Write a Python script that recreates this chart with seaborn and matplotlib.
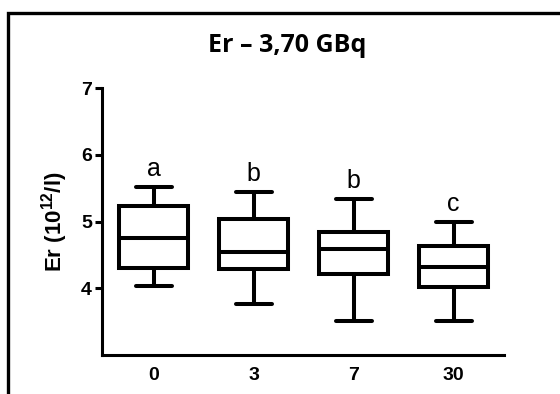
import matplotlib
matplotlib.use("Agg")
import matplotlib.pyplot as plt
import seaborn as sns
import pandas as pd
from matplotlib.patches import Rectangle

# Data: five-number summaries per group (lower whisker, Q1, median, Q3, upper whisker)
categories = ["0", "3", "7", "30"]
lower_whisker = [4.03, 3.77, 3.51, 3.51]
q1 = [4.31, 4.29, 4.21, 4.02]
median = [4.75, 4.55, 4.59, 4.32]
q3 = [5.24, 5.04, 4.84, 4.63]
upper_whisker = [5.52, 5.45, 5.34, 5.00]
letters = ["a", "b", "b", "c"]
yticks = [4, 5, 6, 7]
title = "Er – 3,70 GBq"
ylabel = "Er (10$^{\\mathbf{12}}$/l)"

rows = []
for i, c in enumerate(categories):
    for v in (lower_whisker[i], q1[i], median[i], q3[i], upper_whisker[i]):
        rows.append({"day": c, "Er": v})
df = pd.DataFrame(rows)

sns.set_theme(style="ticks")
plt.rcParams["font.family"] = ["Liberation Sans", "DejaVu Sans"]
plt.rcParams["text.color"] = "black"
plt.rcParams["axes.labelcolor"] = "black"
plt.rcParams["mathtext.fontset"] = "custom"
plt.rcParams["mathtext.bf"] = "Liberation Sans:bold"
plt.rcParams["mathtext.rm"] = "Liberation Sans:bold"

fig = plt.figure(figsize=(5.6, 3.94), dpi=100)
ax = fig.add_axes([0.1818, 0.099, 0.7175, 0.677])

lw = 2.9
sns.boxplot(data=df, x="day", y="Er", order=categories, ax=ax,
            whis=(0, 100), width=0.69, color="white", linecolor="black",
            linewidth=lw, fliersize=0, capwidths=0.36,
            boxprops=dict(linewidth=lw, edgecolor="black", facecolor="white"),
            medianprops=dict(linewidth=lw, color="black"),
            whiskerprops=dict(linewidth=lw, color="black"),
            capprops=dict(linewidth=lw, color="black"))

for i, (u, t) in enumerate(zip(upper_whisker, letters)):
    ax.text(i, u + 0.16, t, ha="center", va="baseline", fontsize=18,
            color="black")

ax.set_ylim(3, 7)
ax.set_xlim(-0.52, 3.5)
ax.set_yticks(yticks)
ax.set_yticklabels([str(t) for t in yticks])
ax.set_xlabel("")
ax.set_ylabel(ylabel, fontsize=16, fontweight="bold", va="center", color="black")
ax.yaxis.set_label_coords(-0.1165, 0.5)
sns.despine(ax=ax)
for s in ("left", "bottom"):
    ax.spines[s].set_linewidth(2.2)
    ax.spines[s].set_color("black")
ax.tick_params(axis="y", length=5, width=2.2, pad=2, labelsize=14, colors="black")
ax.tick_params(axis="x", length=0, pad=9, labelsize=14, colors="black")
for lab in ax.get_xticklabels() + ax.get_yticklabels():
    lab.set_fontweight("bold")
ax.set_facecolor("white")

fig.text(0.512, 1 - 45 / 394, title, ha="center", va="center", color="black",
         fontsize=18, fontweight="bold", family=["Open Sans", "DejaVu Sans"])

fig.patches.append(Rectangle((8.3 / 560, -0.2), 2.0, 1.2 - 13.3 / 394,
                             transform=fig.transFigure, fill=False,
                             edgecolor="black", linewidth=2.4))

fig.savefig("out.png", dpi=100, facecolor="white")
